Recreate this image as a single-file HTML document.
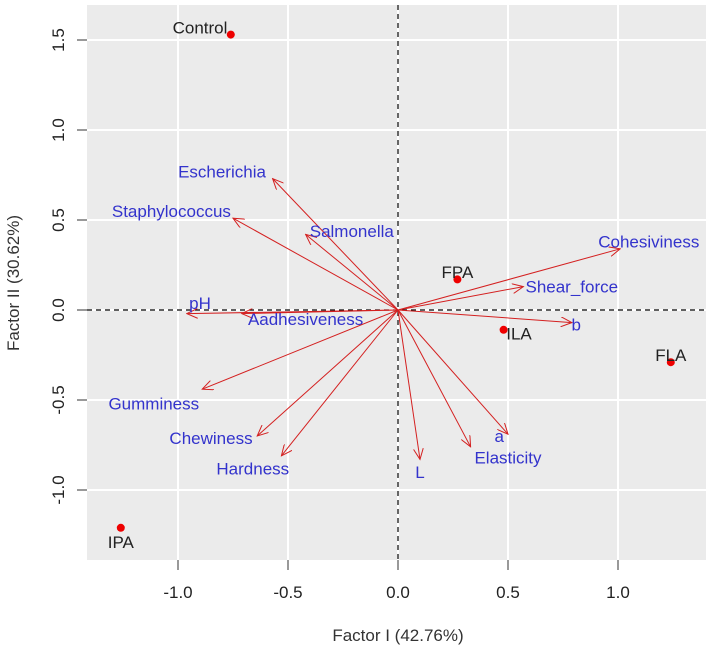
<!DOCTYPE html>
<html><head><meta charset="utf-8"><style>
html,body{margin:0;padding:0;background:#fff;}
svg text{font-family:"Liberation Sans",Arial,sans-serif;}
</style></head><body>
<svg id="chart" width="712" height="650" xmlns="http://www.w3.org/2000/svg">
<defs><marker id="ah" markerWidth="12" markerHeight="10" refX="11" refY="5" orient="auto" markerUnits="userSpaceOnUse"><path d="M0,0 L11,5 L0,10" fill="none" stroke="#d42020" stroke-width="1"/></marker></defs>
<rect x="87" y="5" width="619" height="555" fill="#ebebeb"/>
<g id="grid"></g><g id="axes"></g><g id="arrows"></g><g id="points"></g>
<text x="398" y="641" font-size="17" fill="#333" text-anchor="middle">Factor I (42.76%)</text>
<text transform="translate(19,283) rotate(-90)" font-size="17" fill="#333" text-anchor="middle">Factor II (30.62%)</text>
</svg>
<script>
const xTicks=[-1.0,-0.5,0.0,0.5,1.0];
const yTicks=[-1.0,-0.5,0.0,0.5,1.0,1.5];
const varNames=["Escherichia","Staphylococcus","Salmonella","pH","Aadhesiveness","Gumminess","Chewiness","Hardness","L","Elasticity","a","b","Shear_force","Cohesiviness"];
const varX=[-0.57,-0.75,-0.42,-0.96,-0.71,-0.89,-0.64,-0.53,0.10,0.33,0.50,0.79,0.57,1.01];
const varY=[0.73,0.51,0.42,-0.02,-0.02,-0.44,-0.70,-0.81,-0.83,-0.76,-0.69,-0.07,0.13,0.34];
const varLabelX=[-0.80,-1.03,-0.21,-0.90,-0.42,-1.11,-0.85,-0.66,0.10,0.50,0.46,0.81,0.79,1.14];
const varLabelY=[0.77,0.55,0.44,0.04,-0.05,-0.52,-0.71,-0.88,-0.90,-0.82,-0.70,-0.08,0.13,0.38];
const obsNames=["Control","FPA","ILA","FLA","IPA"];
const obsX=[-0.76,0.27,0.48,1.24,-1.26];
const obsY=[1.53,0.17,-0.11,-0.29,-1.21];
const obsLabelX=[-0.90,0.27,0.55,1.24,-1.26];
const obsLabelY=[1.57,0.21,-0.13,-0.25,-1.29];
const NS="http://www.w3.org/2000/svg";
const sx=v=>398+220*v, sy=v=>310-180*v;
function mk(tag,attrs,parent,txt){const e=document.createElementNS(NS,tag);for(const k in attrs)e.setAttribute(k,attrs[k]);if(txt!==undefined)e.textContent=txt;document.getElementById(parent).appendChild(e);return e;}
xTicks.forEach(t=>{
 const g=mk('line',{x1:sx(t),x2:sx(t),y1:5,y2:560,stroke:'#fff','stroke-width':2},'grid');
 
 
 const tk=mk('line',{x1:sx(t),x2:sx(t),y1:560,y2:570,stroke:'#333','stroke-width':1},'axes');
 
 
 const l=mk('text',{x:sx(t),y:598,'font-size':17,fill:'#222','text-anchor':'middle'},'axes',t.toFixed(1));
 
 
});
yTicks.forEach(t=>{
 const g=mk('line',{x1:87,x2:706,y1:sy(t),y2:sy(t),stroke:'#fff','stroke-width':2},'grid');
 
 
 const tk=mk('line',{x1:77,x2:87,y1:sy(t),y2:sy(t),stroke:'#333','stroke-width':1},'axes');
 
 
 const l=mk('text',{transform:`translate(64,${sy(t)}) rotate(-90)`,'font-size':17,fill:'#222','text-anchor':'middle'},'axes',t.toFixed(1));
 
 
});
const h=mk('line',{x1:87,x2:706,y1:sy(0),y2:sy(0),stroke:'#000','stroke-width':1.2,'stroke-dasharray':'5,4'},'grid');


const v=mk('line',{x1:sx(0),x2:sx(0),y1:5,y2:560,stroke:'#000','stroke-width':1.2,'stroke-dasharray':'5,4'},'grid');


varNames.forEach((n,i)=>{
 const a=mk('line',{x1:sx(0),y1:sy(0),x2:sx(varX[i]),y2:sy(varY[i]),stroke:'#d42020','stroke-width':1,'marker-end':'url(#ah)'},'arrows');
 
 
 const t=mk('text',{x:sx(varLabelX[i]),y:sy(varLabelY[i])+6,'font-size':17,fill:'#3333cc','text-anchor':'middle'},'arrows',n);
 
 
});
obsNames.forEach((n,i)=>{
 const c=mk('circle',{cx:sx(obsX[i]),cy:sy(obsY[i]),r:4,fill:'#ee0000'},'points');
 
 
 const t=mk('text',{x:sx(obsLabelX[i]),y:sy(obsLabelY[i])+6,'font-size':17,fill:'#222','text-anchor':'middle'},'points',n);
 
 
});
</script>
</body></html>
